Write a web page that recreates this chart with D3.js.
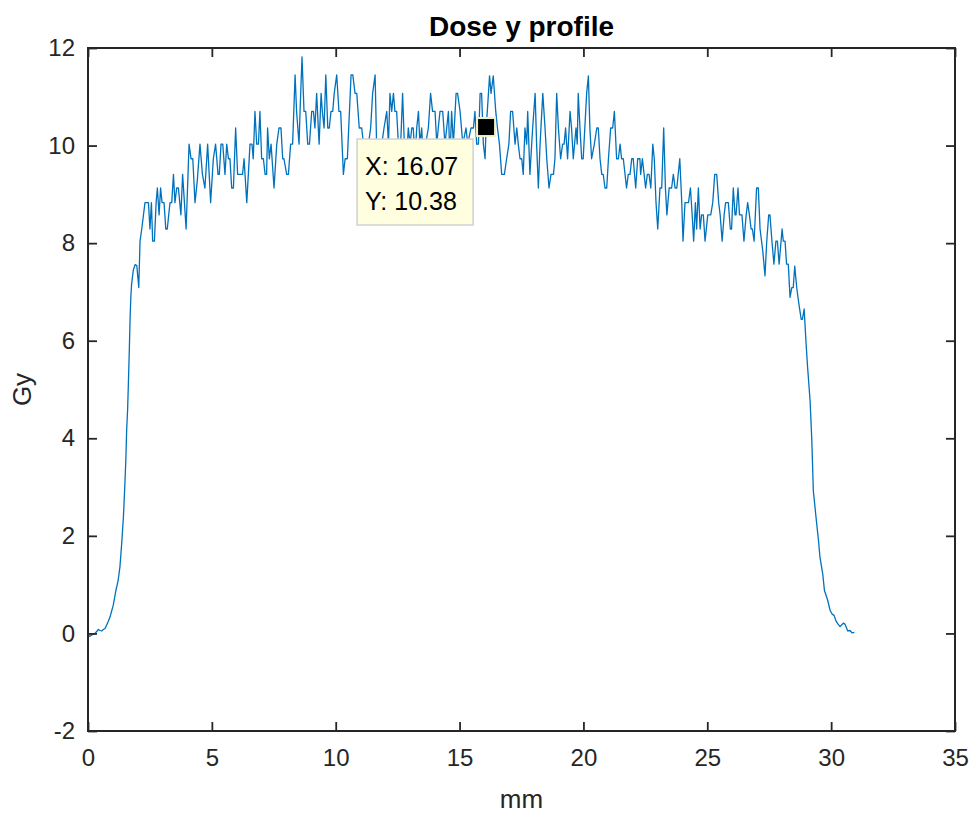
<!DOCTYPE html>
<html>
  <head>
    <meta charset="utf-8" />
    <title>Dose y profile</title>
    <script src="https://d3js.org/d3.v7.min.js"></script>
    <style>

      body {
        margin: 0;
        background: #fff;
      }

      svg text {
        font-family: "Liberation Sans", Arial, sans-serif;
      }

    </style>
  </head>
  <body>

    <svg id="viz"></svg>

    <script>

      // profile samples (mm, Gy)
      var positionMm = [
        0.00, 0.08, 0.15, 0.22, 0.28, 0.35, 0.42, 0.49, 0.55, 0.62, 0.69, 0.75, 0.82, 0.89, 0.95,
        1.02, 1.08, 1.13, 1.18, 1.22, 1.29, 1.36, 1.43, 1.49, 1.53, 1.56, 1.60, 1.63, 1.67, 1.70,
        1.73, 1.76, 1.83, 1.90, 1.97, 2.05, 2.10,
        2.17, 2.30, 2.44, 2.50, 2.56, 2.61, 2.68, 2.75, 2.80, 2.87, 2.93, 2.99, 3.07, 3.14, 3.20,
        3.31, 3.38, 3.45, 3.51, 3.58, 3.65, 3.75, 3.82, 3.96, 4.08, 4.16, 4.23, 4.32, 4.41, 4.52,
        4.62, 4.72, 4.83, 4.95, 5.06, 5.15, 5.25, 5.30, 5.37, 5.44, 5.53, 5.60, 5.67, 5.73, 5.80,
        5.87, 5.96, 6.04, 6.18, 6.24, 6.30, 6.41, 6.54, 6.62, 6.67, 6.74, 6.81, 6.88, 6.94, 7.01,
        7.08, 7.15, 7.21, 7.25, 7.32, 7.39, 7.51, 7.62, 7.71,
        7.79, 7.86, 7.91, 8.02, 8.09, 8.18, 8.26, 8.36, 8.42, 8.52, 8.56, 8.64, 8.72, 8.79, 8.87,
        8.94, 9.03, 9.10, 9.16, 9.23, 9.33, 9.41, 9.46, 9.53, 9.60, 9.68, 9.74, 9.81, 9.88, 9.94,
        10.04, 10.13, 10.20, 10.31, 10.38, 10.47, 10.62, 10.69, 10.78, 10.85, 10.95, 11.05, 11.12,
        11.23, 11.32, 11.41, 11.49, 11.59, 11.65, 11.76, 11.86, 11.95, 12.06, 12.13, 12.19, 12.26,
        12.33, 12.39, 12.46, 12.53, 12.60, 12.70, 12.77, 12.86, 12.93, 13.00, 13.07, 13.13, 13.20,
        13.27, 13.34, 13.40, 13.47, 13.54, 13.63, 13.74, 13.83, 13.91, 14.01, 14.08, 14.14, 14.21,
        14.32, 14.41, 14.48, 14.55, 14.61, 14.68, 14.75, 14.86, 14.92, 15.02,
        15.13, 15.26, 15.33, 15.46, 15.56, 15.62, 15.69, 15.76, 15.83, 15.89, 15.96, 16.03, 16.07,
        16.12, 16.21, 16.27, 16.36, 16.46, 16.53, 16.61, 16.70, 16.81, 16.90, 16.99, 17.06, 17.14,
        17.24, 17.31, 17.37, 17.44, 17.51, 17.57, 17.64, 17.71, 17.75, 17.84, 17.95, 18.05, 18.11,
        18.18, 18.25, 18.36, 18.45, 18.52, 18.61, 18.69, 18.79, 18.85, 18.92, 18.99, 19.08, 19.16,
        19.22, 19.28, 19.36, 19.46, 19.52, 19.59, 19.70, 19.75, 19.79, 19.86, 19.93, 19.99, 20.13,
        20.20, 20.26, 20.33, 20.44, 20.54, 20.60, 20.67, 20.74, 20.80, 20.87, 20.94, 21.01, 21.10,
        21.18, 21.25, 21.34, 21.41, 21.48, 21.54, 21.61, 21.68, 21.74, 21.81, 21.88, 21.95, 22.01,
        22.11, 22.19, 22.28,
        22.31, 22.38, 22.45, 22.51, 22.58, 22.65, 22.72, 22.80, 22.86, 22.93, 23.00, 23.09, 23.16,
        23.24, 23.31, 23.37, 23.46, 23.56, 23.63, 23.70, 23.77, 23.89, 23.97, 24.02, 24.10, 24.24,
        24.32, 24.39, 24.45, 24.52, 24.57, 24.64, 24.71, 24.77, 24.84, 24.91, 25.02, 25.14, 25.22,
        25.30, 25.38, 25.46, 25.52, 25.60, 25.68, 25.74, 25.85, 25.93, 25.98, 26.05, 26.12, 26.16,
        26.24, 26.30, 26.40, 26.48, 26.57, 26.63, 26.70, 26.77, 26.82, 26.89, 26.99, 27.06, 27.13,
        27.24, 27.33, 27.40, 27.48, 27.53, 27.61, 27.69, 27.77, 27.83, 27.90, 28.02, 28.07, 28.14,
        28.20, 28.27, 28.34, 28.41, 28.47, 28.53, 28.61, 28.68,
        28.72, 28.79, 28.84, 28.91, 28.99, 29.05, 29.15, 29.22, 29.28, 29.39, 29.49, 29.55, 29.66,
        29.73, 29.86, 29.96, 30.05, 30.12, 30.20, 30.28, 30.36, 30.49, 30.56, 30.67, 30.76, 30.85,
        30.94
      ];

      var doseGy = [
        -0.04, -0.06, -0.03, -0.02, 0.00, 0.04, 0.08, 0.06, 0.05, 0.08, 0.10, 0.17, 0.25, 0.34, 0.45,
        0.58, 0.75, 0.89, 1.00, 1.10, 1.37, 1.84, 2.39, 3.07, 3.60, 4.16, 4.60, 5.12, 5.85, 6.48,
        6.90, 7.16, 7.45, 7.56, 7.54, 7.09, 8.04,
        8.29, 8.83, 8.83, 8.29, 8.83, 8.04, 8.04, 8.83, 9.13, 8.58, 9.13, 8.83, 8.83, 8.29, 8.29,
        8.83, 8.83, 9.41, 8.83, 9.13, 9.13, 8.58, 9.41, 8.29, 10.03, 9.73, 9.73, 8.83, 9.27, 10.03,
        9.41, 9.13, 10.03, 8.83, 9.73, 10.03, 9.41, 9.41, 10.03, 10.03, 9.41, 10.03, 9.73, 9.73, 9.13,
        9.13, 10.36, 9.41, 9.41, 9.41, 9.73, 8.83, 10.03, 10.03, 9.73, 10.70, 10.03, 10.03, 10.70, 9.73,
        9.73, 9.41, 9.41, 10.36, 9.73, 10.03, 9.13, 10.03, 10.36,
        10.36, 9.73, 9.73, 9.41, 9.41, 10.03, 10.03, 11.45, 10.70, 10.03, 10.70, 11.82, 10.70, 10.70, 10.03,
        10.03, 10.70, 10.70, 10.36, 11.07, 10.03, 11.07, 10.70, 10.36, 11.45, 10.36, 10.36, 10.70, 10.70, 11.07,
        11.45, 10.70, 10.70, 9.41, 9.73, 9.73, 11.45, 11.45, 11.07, 11.07, 10.36, 10.36, 10.03,
        9.73, 10.03, 10.36, 11.07, 11.45, 10.03, 9.73, 10.03, 10.36, 10.70, 10.03, 11.07, 10.70,
        11.07, 10.70, 10.70, 10.03, 9.73, 11.07, 10.03, 9.73, 10.36, 10.03, 10.36, 10.36, 9.73,
        10.36, 10.70, 10.03, 10.36, 9.73, 10.03, 10.36, 11.07, 10.70, 10.70, 10.03, 10.36, 10.70,
        10.70, 10.03, 10.36, 10.70, 9.73, 10.70, 10.03, 11.07, 11.07, 10.70,
        10.03, 10.36, 10.03, 10.36, 10.36, 10.70, 10.03, 10.03, 11.07, 11.07, 10.03, 9.73, 10.38,
        10.70, 11.43, 11.07, 11.43, 10.70, 10.36, 10.03, 9.41, 9.41, 9.73, 10.03, 10.70, 10.70,
        10.03, 10.36, 10.03, 9.73, 9.73, 9.41, 10.36, 10.03, 10.70, 9.41, 10.36, 11.07, 10.03,
        9.13, 10.03, 11.07, 10.36, 9.73, 9.13, 9.41, 9.41, 9.73, 11.07, 10.36, 9.73, 10.03,
        10.03, 10.36, 9.73, 10.70, 10.36, 9.73, 10.36, 10.03, 11.07, 10.36, 9.73, 9.73, 11.07,
        11.43, 10.36, 9.73, 10.03, 10.36, 10.36, 9.73, 9.41, 9.41, 9.13, 9.13, 9.73, 10.36,
        10.36, 10.70, 9.73, 9.73, 10.03, 9.73, 9.73, 9.41, 9.13, 9.41, 9.41, 9.73, 9.73,
        9.13, 9.73, 9.73,
        9.41, 9.73, 9.41, 9.13, 9.41, 9.41, 9.13, 10.03, 9.73, 8.83, 8.29, 9.13, 9.13,
        10.36, 9.13, 8.58, 9.13, 9.13, 9.41, 9.13, 9.13, 9.73, 8.83, 8.04, 8.83, 8.83,
        9.13, 8.58, 8.04, 8.83, 8.29, 9.13, 8.29, 8.58, 8.58, 8.04, 8.58, 8.58, 8.83,
        9.41, 9.41, 8.83, 8.58, 8.04, 8.58, 8.83, 8.83, 8.29, 8.29, 9.13, 8.58, 8.58,
        9.13, 8.58, 8.58, 8.04, 8.58, 8.83, 8.58, 8.29, 8.29, 8.04, 9.13, 9.13, 8.29,
        7.84, 7.33, 8.04, 8.58, 8.58, 8.04, 7.57, 8.04, 8.04, 7.57, 8.29, 8.04, 8.04,
        7.57, 7.57, 6.89, 7.09, 7.09, 7.53, 7.09, 6.82,
        6.68, 6.44, 6.44, 6.65, 5.93, 5.45, 4.77, 3.95, 2.93, 2.38, 1.90, 1.56, 1.22,
        0.88, 0.68, 0.47, 0.39, 0.37, 0.25, 0.19, 0.14, 0.21, 0.19, 0.05, 0.06, 0.01,
        0.02
      ];

      var xTicks = [0, 5, 10, 15, 20, 25, 30, 35];
      var yTicks = [-2, 0, 2, 4, 6, 8, 10, 12];

      // data tip
      var tipX = 16.07;
      var tipY = 10.38;

      var width = 974;
      var height = 817;
      var margin = {top: 48, right: 19, bottom: 86, left: 88};
      var axisColor = "#262626";

      var svg = d3.select("#viz")
        .attr("width", width)
        .attr("height", height);

      var x = d3.scaleLinear()
        .domain([0, 35])
        .range([margin.left, width - margin.right]);

      var y = d3.scaleLinear()
        .domain([-2, 12])
        .range([height - margin.bottom, margin.top]);

      svg.append("rect")
        .attr("width", width)
        .attr("height", height)
        .attr("fill", "#fff");

      // profile line
      var line = d3.line()
        .x(function(i) { return x(positionMm[i]); })
        .y(function(i) { return y(doseGy[i]); });

      svg.append("path")
        .datum(d3.range(positionMm.length))
        .attr("d", line)
        .attr("fill", "none")
        .attr("stroke", "#0072bd")
        .attr("stroke-width", 1.3)
        .attr("stroke-linejoin", "round");

      // axes, ticks pointing inwards on all four sides
      function styleAxis(g) {
        g.select(".domain").remove();
        g.attr("color", axisColor)
          .attr("font-size", null)
          .attr("font-family", null);
        g.selectAll(".tick line").attr("stroke-width", 1.8);
        g.selectAll(".tick text")
          .attr("fill", axisColor)
          .style("font-size", "24px");
      }

      svg.append("g")
        .attr("transform", "translate(0," + y(-2) + ")")
        .call(d3.axisBottom(x).tickValues(xTicks).tickSizeInner(-9).tickSizeOuter(0)
          .tickPadding(18).tickFormat(function(d) { return String(d); }))
        .call(styleAxis);

      svg.append("g")
        .attr("transform", "translate(0," + y(12) + ")")
        .call(d3.axisTop(x).tickValues(xTicks).tickSizeInner(-9).tickSizeOuter(0).tickFormat(""))
        .call(styleAxis);

      svg.append("g")
        .attr("transform", "translate(" + x(0) + ",0)")
        .call(d3.axisLeft(y).tickValues(yTicks).tickSizeInner(-9).tickSizeOuter(0)
          .tickPadding(13).tickFormat(function(d) { return String(d); }))
        .call(styleAxis);

      svg.append("g")
        .attr("transform", "translate(" + x(35) + ",0)")
        .call(d3.axisRight(y).tickValues(yTicks).tickSizeInner(-9).tickSizeOuter(0).tickFormat(""))
        .call(styleAxis);

      svg.append("rect")
        .attr("x", x(0))
        .attr("y", y(12))
        .attr("width", x(35) - x(0))
        .attr("height", y(-2) - y(12))
        .attr("fill", "none")
        .attr("stroke", axisColor)
        .attr("stroke-width", 2);

      // labels
      svg.append("text")
        .attr("x", (x(0) + x(35)) / 2)
        .attr("y", 36)
        .attr("text-anchor", "middle")
        .attr("font-weight", "bold")
        .attr("font-size", 28)
        .attr("fill", "#000")
        .text("Dose y profile");

      svg.append("text")
        .attr("x", (x(0) + x(35)) / 2)
        .attr("y", 808)
        .attr("text-anchor", "middle")
        .attr("font-size", 26)
        .attr("fill", axisColor)
        .text("mm");

      svg.append("text")
        .attr("transform", "translate(31," + (y(-2) + y(12)) / 2 + ") rotate(-90)")
        .attr("text-anchor", "middle")
        .attr("font-size", 26)
        .attr("fill", axisColor)
        .text("Gy");

      // data tip box and marker
      var tx = x(tipX);
      var ty = y(tipY);

      var tip = svg.append("g");

      tip.append("rect")
        .attr("x", tx - 129)
        .attr("y", ty + 12)
        .attr("width", 116)
        .attr("height", 86)
        .attr("fill", "#ffffe0")
        .attr("stroke", "#d2d2d2")
        .attr("stroke-width", 1.5);

      tip.append("text")
        .attr("x", tx - 121)
        .attr("y", ty + 48)
        .attr("font-size", 25)
        .attr("fill", "#000")
        .text("X: " + tipX.toFixed(2));

      tip.append("text")
        .attr("x", tx - 121)
        .attr("y", ty + 83)
        .attr("font-size", 25)
        .attr("fill", "#000")
        .text("Y: " + tipY.toFixed(2));

      tip.append("rect")
        .attr("x", tx - 9)
        .attr("y", ty - 9)
        .attr("width", 18)
        .attr("height", 18)
        .attr("fill", "#000")
        .attr("stroke", "#f3efc9")
        .attr("stroke-width", 2);

    </script>
  </body>
</html>
